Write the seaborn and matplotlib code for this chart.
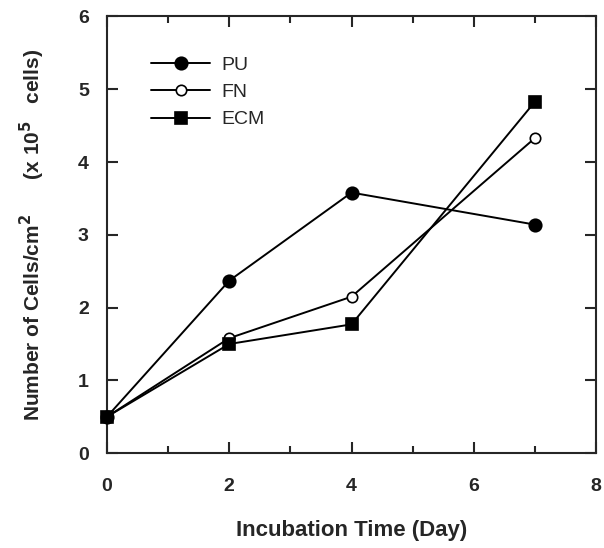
import pandas as pd
import matplotlib.pyplot as plt
import seaborn as sns

days = [0, 2, 4, 7]
pu = [0.5, 2.37, 3.58, 3.14]
fn = [0.5, 1.58, 2.15, 4.33]
ecm = [0.5, 1.5, 1.77, 4.83]

df = pd.DataFrame({
    "day": days * 3,
    "cells": pu + fn + ecm,
    "group": ["PU"] * 4 + ["FN"] * 4 + ["ECM"] * 4,
})

sns.set_style("ticks")
plt.rcParams["font.family"] = ["Liberation Sans", "DejaVu Sans"]

fig = plt.figure(figsize=(6.04, 5.48), dpi=100)
ax = fig.add_axes([0.177, 0.173, 0.810, 0.797])

# marker look per series
styles = {
    "PU": dict(marker="o", markerfacecolor="black", markersize=9),
    "FN": dict(marker="o", markerfacecolor="white", markersize=7.5),
    "ECM": dict(marker="s", markerfacecolor="black", markersize=8.5),
}
for name in ["PU", "FN", "ECM"]:
    sub = df[df["group"] == name]
    sns.lineplot(data=sub, x="day", y="cells", ax=ax, color="black", linewidth=1.4,
                 markeredgecolor="black", markeredgewidth=1.2, label=name,
                 clip_on=False, zorder=3, **styles[name])

ax.set_xlim(0, 8)
ax.set_ylim(0, 6)
ax.set_xticks([0, 2, 4, 6, 8])
ax.set_xticks([1, 3, 5, 7], minor=True)
ax.set_yticks(range(7))
ax.tick_params(which="both", direction="in", top=True, right=True, labelsize=14, width=1.5)
ax.tick_params(which="major", length=8)
ax.tick_params(axis="x", which="major", pad=18)
ax.tick_params(axis="y", which="major", pad=13)
ax.tick_params(which="minor", length=5)
for lbl in ax.get_xticklabels() + ax.get_yticklabels():
    lbl.set_fontweight("bold")
for s in ax.spines.values():
    s.set_linewidth(1.5)
    s.set_visible(True)

ax.set_xlabel("Incubation Time (Day)", fontsize=16, fontweight="bold", labelpad=18)
ax.set_ylabel("Number of Cells/cm$^\\mathbf{2}$      (x 10$^\\mathbf{5}$   cells)", fontsize=15,
              fontweight="bold", labelpad=22)

leg = ax.legend(loc="upper left", bbox_to_anchor=(0.075, 0.927), frameon=False, fontsize=14,
                handlelength=3.0, handletextpad=0.6, labelspacing=0.5, borderaxespad=0)

plt.savefig("out.png", dpi=100)
plt.close()
